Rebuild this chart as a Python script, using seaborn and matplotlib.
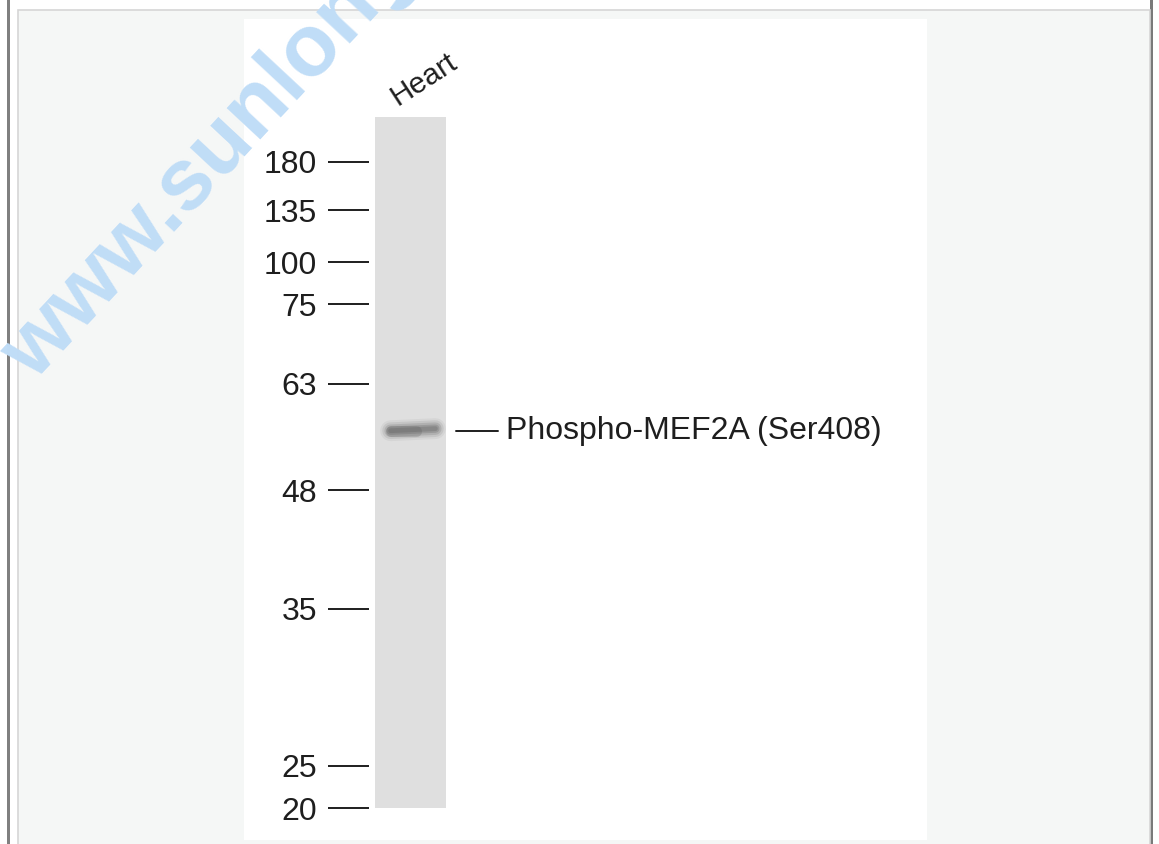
import matplotlib
matplotlib.use("Agg")
import matplotlib.pyplot as plt
import matplotlib.transforms as mtransforms
import seaborn as sns
import pandas as pd
from matplotlib.patches import Rectangle

# Blot data: marker sizes (kDa) and relative migration down the lane (0 = top, 1 = bottom)
marker_kda = ["180", "135", "100", "75", "63", "48", "35", "25", "20"]
marker_migration = [0.065, 0.135, 0.210, 0.271, 0.386, 0.540, 0.712, 0.939, 1.0]
lanes = ["Heart"]
lane_length = [1.0]
band_migration = 0.454
band_label = "Phospho-MEF2A (Ser408)"

sns.set_theme(style="white")
plt.rcParams["font.family"] = ["Liberation Sans", "DejaVu Sans"]

W, H = 1159, 844
fig = plt.figure(figsize=(W / 100, H / 100), dpi=100, facecolor="white")


def px_rect(x0, y0, x1, y1, **kw):
    # rectangle in figure pixels (y measured from top)
    return Rectangle((x0 / W, 1 - y1 / H), (x1 - x0) / W, (y1 - y0) / H,
                     transform=fig.transFigure, **kw)


# page frame
fig.patches.append(px_rect(7, 0, 10, H, facecolor="#808080", edgecolor="none", zorder=-5))
fig.patches.append(px_rect(1150, 0, 1153, H, facecolor="#7a7a7a", edgecolor="none", zorder=-5))
fig.patches.append(px_rect(18, 10, 1150, H + 2, facecolor="#f5f7f6", edgecolor="#d6d6d6",
                           linewidth=1.2, zorder=-4))
# white image panel
fig.patches.append(px_rect(244, 19, 927, 840, facecolor="white", edgecolor="none", zorder=-3))

# watermark
fig.text(34 / W, 1 - 383 / H, "www.sunlongbiotech.com", rotation=47, rotation_mode="anchor",
         ha="left", va="baseline", fontsize=63, fontweight="bold", color="#c0ddf7", zorder=-2)

# lane axes
ax = fig.add_axes([369 / W, 1 - 808 / H, (900 - 369) / W, (808 - 117) / H])
ax.patch.set_alpha(0)
lane_df = pd.DataFrame({"lane": lanes, "length": lane_length})
sns.barplot(data=lane_df, x="lane", y="length", color="#dfdfdf", width=1.0,
            saturation=1, edgecolor="none", ax=ax)
ax.set_xlim((369 - 410.5) / 71, (900 - 410.5) / 71)
ax.set_ylim(1, 0)
for s in ax.spines.values():
    s.set_visible(False)
ax.set_xlabel("")
ax.set_ylabel("")
ax.set_xticks([])

# marker ticks
ax.set_yticks(marker_migration, labels=marker_kda)
ax.tick_params(axis="y", left=True, length=29.5, width=1.4, pad=8, color="#1e1e1e",
               labelsize=23, labelcolor="#1e1e1e", direction="out")
for t in ax.yaxis.get_major_ticks():
    t.tick1line.set_clip_on(False)

# band (soft, darker on the left half)
for lw, a in [(15, 0.07), (12, 0.12), (9, 0.18), (6, 0.24), (3.5, 0.25)]:
    ax.plot([-0.28, 0.35], [band_migration, band_migration - 0.003], color="#555555",
            lw=lw, alpha=a, solid_capstyle="round")
ax.plot([-0.27, 0.08], [band_migration + 0.001, band_migration + 0.001], color="#555555",
        lw=8, alpha=0.22, solid_capstyle="round")

# lane label
ax.text(-0.19, 0, lanes[0], rotation=33, rotation_mode="anchor", ha="left", va="baseline",
        fontsize=21.5, color="#1e1e1e", clip_on=False,
        transform=ax.transData + mtransforms.ScaledTranslation(0, 11 / 100, fig.dpi_scale_trans))

# band label
ax.plot([0.641, 1.232], [band_migration, band_migration], color="#1e1e1e", lw=1.4, clip_on=False)
ax.text(1.345, band_migration, band_label, ha="left", va="center", fontsize=23,
        color="#1e1e1e", clip_on=False)

fig.savefig("out.png", dpi=100, facecolor="white")
